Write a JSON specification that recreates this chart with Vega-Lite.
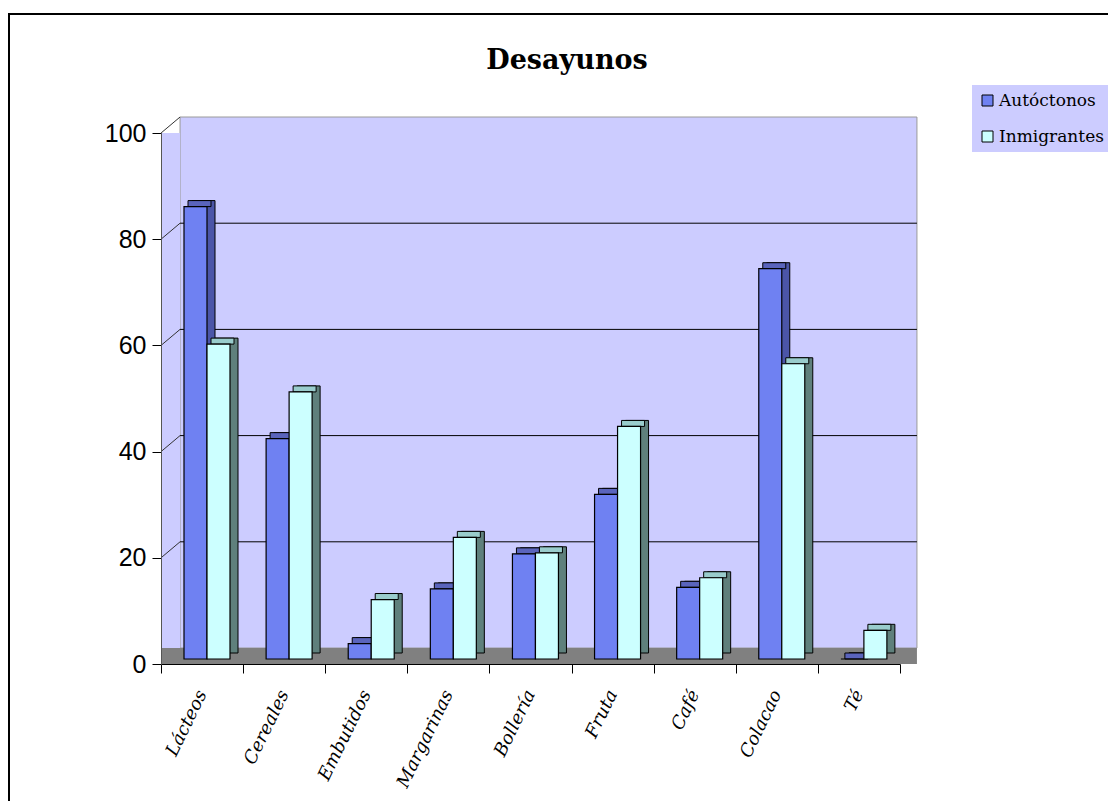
{
  "$schema": "https://vega.github.io/schema/vega-lite/v6.json",
  "width": 1102,
  "height": 790,
  "autosize": {"type": "none"},
  "padding": {"left": 9, "top": 14, "right": -3, "bottom": -3},
  "background": "white",
  "view": {"stroke": "black", "strokeWidth": 2, "fill": "white"},
  "title": {
    "text": "Desayunos",
    "font": "DejaVu Serif",
    "fontSize": 27,
    "fontWeight": "bold",
    "color": "black",
    "anchor": "middle",
    "frame": "group",
    "offset": 0,
    "baseline": "alphabetic",
    "dy": 82,
    "dx": 7
  },
  "datasets": {
    "desayunos": [
      {"alimento": "Lácteos", "grupo": "Autóctonos", "porcentaje": 85.2},
      {"alimento": "Lácteos", "grupo": "Inmigrantes", "porcentaje": 59.3},
      {"alimento": "Cereales", "grupo": "Autóctonos", "porcentaje": 41.5},
      {"alimento": "Cereales", "grupo": "Inmigrantes", "porcentaje": 50.3},
      {"alimento": "Embutidos", "grupo": "Autóctonos", "porcentaje": 2.9},
      {"alimento": "Embutidos", "grupo": "Inmigrantes", "porcentaje": 11.2},
      {"alimento": "Margarinas", "grupo": "Autóctonos", "porcentaje": 13.2},
      {"alimento": "Margarinas", "grupo": "Inmigrantes", "porcentaje": 22.9},
      {"alimento": "Bollería", "grupo": "Autóctonos", "porcentaje": 19.8},
      {"alimento": "Bollería", "grupo": "Inmigrantes", "porcentaje": 20.0},
      {"alimento": "Fruta", "grupo": "Autóctonos", "porcentaje": 31.0},
      {"alimento": "Fruta", "grupo": "Inmigrantes", "porcentaje": 43.8},
      {"alimento": "Café", "grupo": "Autóctonos", "porcentaje": 13.5},
      {"alimento": "Café", "grupo": "Inmigrantes", "porcentaje": 15.3},
      {"alimento": "Colacao", "grupo": "Autóctonos", "porcentaje": 73.5},
      {"alimento": "Colacao", "grupo": "Inmigrantes", "porcentaje": 55.6},
      {"alimento": "Té", "grupo": "Autóctonos", "porcentaje": 0},
      {"alimento": "Té", "grupo": "Inmigrantes", "porcentaje": 5.4}
    ],
    "marcas": [{"v": 20}, {"v": 40}, {"v": 60}, {"v": 80}, {"v": 100}]
  },
  "resolve": {"scale": {"xOffset": "independent"}},
  "layer": [
    {
      "data": {"values": [{}]},
      "mark": {"type": "rect", "fill": "#CCCCFF", "stroke": "#9A9A9A", "strokeWidth": 1,
               "xOffset": -22, "x2Offset": 58, "yOffset": -16, "y2Offset": -16},
      "encoding": {
        "x": {"datum": "Lácteos", "type": "nominal", "title": null},
        "x2": {"datum": "Té"},
        "y": {"datum": 0, "type": "quantitative", "title": null},
        "y2": {"datum": 100}
      }
    },
    {
      "data": {"values": [{}]},
      "mark": {"type": "rect", "fill": "#CCCCFF", "xOffset": -41, "x2Offset": -22},
      "encoding": {
        "x": {"datum": "Lácteos", "type": "nominal", "title": null},
        "x2": {"datum": "Lácteos"},
        "y": {"datum": 0, "type": "quantitative", "title": null},
        "y2": {"datum": 100}
      }
    },
    {
      "data": {"values": [{}]},
      "mark": {"type": "rect", "fill": "#808080", "xOffset": -41, "x2Offset": 58, "y2Offset": -16},
      "encoding": {
        "x": {"datum": "Lácteos", "type": "nominal", "title": null},
        "x2": {"datum": "Té"},
        "y": {"datum": 0, "type": "quantitative", "title": null},
        "y2": {"datum": 0}
      }
    },
    {
      "data": {"name": "marcas"},
      "transform": [{"filter": "datum.v < 100"}],
      "mark": {"type": "rule", "stroke": "black", "strokeWidth": 1, "xOffset": -22, "x2Offset": 58, "yOffset": -16},
      "encoding": {
        "x": {"datum": "Lácteos", "type": "nominal", "title": null},
        "x2": {"datum": "Té"},
        "y": {"field": "v", "type": "quantitative", "title": null}
      }
    },
    {
      "data": {"name": "marcas"},
      "mark": {"type": "rule", "stroke": "#333333", "strokeWidth": 1, "xOffset": -41, "x2Offset": -22, "y2Offset": -16},
      "encoding": {
        "x": {"datum": "Lácteos", "type": "nominal", "title": null},
        "x2": {"datum": "Lácteos"},
        "y": {"field": "v", "type": "quantitative", "title": null},
        "y2": {"field": "v"}
      }
    },
    {
      "data": {"name": "desayunos"},
      "mark": {"type": "bar", "stroke": "black", "strokeWidth": 1, "yOffset": -11, "y2Offset": -11},
      "encoding": {
        "x": {"field": "alimento", "type": "nominal", "sort": null, "title": null},
        "xOffset": {
          "field": "grupo", "type": "nominal", "sort": null,
          "scale": {"domain": ["Autóctonos", "Inmigrantes"], "range": [31, 77], "paddingInner": 0, "paddingOuter": 0}
        },
        "y": {"field": "porcentaje", "type": "quantitative", "title": null},
        "fill": {"condition": {"test": "datum.grupo === 'Autóctonos'", "value": "#4B55A8"}, "value": "#5F807C"}
      }
    },
    {
      "data": {"name": "desayunos"},
      "mark": {"type": "bar", "stroke": "black", "strokeWidth": 1, "yOffset": -11, "y2Offset": -5},
      "encoding": {
        "x": {"field": "alimento", "type": "nominal", "sort": null, "title": null},
        "xOffset": {
          "field": "grupo", "type": "nominal", "sort": null,
          "scale": {"domain": ["Autóctonos", "Inmigrantes"], "range": [27, 73], "paddingInner": 0, "paddingOuter": 0}
        },
        "y": {"field": "porcentaje", "type": "quantitative", "title": null},
        "y2": {"field": "porcentaje"},
        "fill": {"condition": {"test": "datum.grupo === 'Autóctonos'", "value": "#5A64BC"}, "value": "#99CCCC"}
      }
    },
    {
      "data": {"name": "desayunos"},
      "mark": {"type": "bar", "stroke": "black", "strokeWidth": 1.2, "yOffset": -5, "y2Offset": -5},
      "encoding": {
        "x": {
          "field": "alimento", "type": "nominal", "sort": null, "title": null,
          "scale": {
            "domain": ["Lácteos", "Cereales", "Embutidos", "Margarinas", "Bollería", "Fruta", "Café", "Colacao", "Té"],
            "range": [152, 891],
            "paddingInner": 0,
            "paddingOuter": 0
          },
          "axis": {
            "orient": "bottom",
            "offset": -140,
            "zindex": 1,
            "tickBand": "extent",
            "labelAngle": -64,
            "labelAlign": "right",
            "labelBaseline": "middle",
            "labelFont": "DejaVu Serif",
            "labelFontStyle": "italic",
            "labelFontSize": 18,
            "labelColor": "black",
            "labelPadding": 18,
            "labelOverlap": false,
            "tickSize": 9,
            "tickColor": "black",
            "domainColor": "black",
            "grid": false
          }
        },
        "xOffset": {
          "field": "grupo", "type": "nominal", "sort": null,
          "scale": {"domain": ["Autóctonos", "Inmigrantes"], "range": [23, 69], "paddingInner": 0, "paddingOuter": 0}
        },
        "y": {
          "field": "porcentaje", "type": "quantitative", "title": null,
          "scale": {"domain": [0, 100], "range": [650, 119], "nice": false},
          "axis": {
            "offset": -152,
            "zindex": 1,
            "values": [0, 20, 40, 60, 80, 100],
            "labelFont": "Liberation Sans",
            "labelFontSize": 25,
            "labelColor": "black",
            "labelPadding": 6,
            "tickSize": 9,
            "tickColor": "black",
            "domainColor": "#555555",
            "grid": false
          }
        },
        "fill": {
          "field": "grupo", "type": "nominal",
          "scale": {"domain": ["Autóctonos", "Inmigrantes"], "range": ["#6F81F2", "#CCFFFF"]},
          "legend": {
            "orient": "none",
            "legendX": 963,
            "legendY": 71,
            "title": null,
            "fillColor": "#CCCCFF",
            "padding": 7,
            "symbolType": "square",
            "symbolSize": 121,
            "symbolStrokeColor": "black",
            "symbolStrokeWidth": 1,
            "symbolOpacity": 1,
            "labelFont": "DejaVu Serif",
            "labelFontSize": 17,
            "labelColor": "black",
            "labelOffset": 3,
            "rowPadding": 18
          }
        }
      }
    }
  ]
}
